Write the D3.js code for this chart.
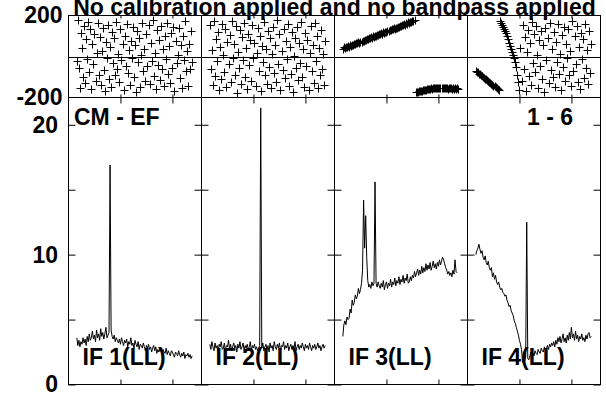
<!DOCTYPE html>
<html>
<head>
<meta charset="utf-8">
<script src="https://d3js.org/d3.v7.min.js"></script>
<style>
  body { margin: 0; background: #fff; }
  text { font-family: "Liberation Sans", Arial, sans-serif; font-weight: bold; }
</style>
</head>
<body>
<div id="chart"></div>
<script>
// every series starts at this channel, one value per channel
var firstChannel = 8;
var nChannels = 128;

var ifLabels = ["IF 1(LL)", "IF 2(LL)", "IF 3(LL)", "IF 4(LL)"];

// amplitudes (bottom row)
var amp1 = [3.6,3.0,3.4,2.9,3.3,3.1,3.6,3.2,3.5,3.0, 3.7,3.3,3.9,3.4,3.6,4.1,3.5,3.8,3.3,4.2,
  3.6,3.9,3.4,4.3,3.7,4.0,3.5,3.9,4.4,3.6, 3.8,4.0,16.9,
  4.2,3.7,3.5,3.8,3.3,3.6,3.4,3.2,3.5,3.1, 3.6,3.3,3.0,3.4,3.2,3.5,2.9,3.3,3.1,3.6,
  3.0,3.2,2.8,3.4,3.1,2.9,3.3,2.7,3.1,3.0, 2.8,3.2,2.9,2.6,3.0,2.8,3.1,2.7,2.9,2.5,
  2.8,3.0,2.6,2.9,2.4,2.7,2.5,2.8,2.6,2.3, 2.7,2.5,2.4,2.8,2.3,2.6,2.4,2.2,2.6,2.5,
  2.3,2.1,2.5,2.4,2.2,2.6,2.3,2.1,2.4,2.2, 2.5,2.0,2.3,2.2,2.4,2.1,2.3,2.0,2.2];
var amp2 = [3.1,2.7,3.3,2.9,2.6,3.2,2.8,3.0,2.5,3.1, 2.9,3.3,2.7,2.8,3.2,2.6,3.0,2.9,3.4,2.7,
  3.1,2.6,2.9,3.2,2.8,3.0,2.5,3.1,2.8,3.3, 2.7,2.9,3.2,2.6,3.0,2.8,3.1,2.7,2.9,3.3,
  2.6,3.0,2.8,3.1,2.7,2.9,2.6,2.8,3.0, 21.3,
  2.8,3.2,2.6,2.9,3.1,2.7,3.0,2.5,3.2,2.8, 3.0,2.6,3.3,2.9,2.7,3.1,2.8,3.2,2.6,3.0,
  2.9,3.3,2.7,3.0,2.8,3.2,2.6,2.9,3.1,2.7, 3.0,2.8,3.3,2.6,2.9,3.1,2.7,3.0,2.8,3.2,
  2.9,2.6,3.1,2.8,3.0,2.7,3.2,2.9,2.6,3.0, 2.8,3.1,2.7,2.9,3.2,2.8,3.0,2.6,2.9,3.1, 2.8,3.0];
var amp3 = [3.7,4.6,4.9,4.6,5.2,5.0,5.1,5.8,5.5,6.5, 6.1,6.3,6.9,6.6,6.8,7.4,7.0,7.3,7.8,8.8,
  14.2,10.5,13.0,9.8,8.0,7.5,7.7,7.4,7.9,7.6, 7.8,15.6,7.8,7.5,7.9,7.6,7.4,7.8,7.5,8.0,
  7.3,7.7,7.9,7.4,7.8,7.6,8.1,7.5,7.9,7.7, 8.2,7.6,8.0,7.8,8.3,7.7,8.1,7.9,8.4,7.8,
  8.2,8.0,8.5,7.8,7.9,8.3,8.0,8.4,8.2,8.7, 8.3,8.6,8.9,8.4,8.8,8.5,9.1,8.6,9.0,8.7,
  9.3,8.8,9.2,8.9,9.4,8.8,9.1,9.5,9.0,9.3, 8.9,9.4,9.1,9.6,9.2,9.5,9.8,9.6,9.3,9.0,
  8.8,8.5,8.7,8.4,8.6,8.3,8.8,8.5,9.6,8.7, 8.6];
var amp4 = [10.0,10.3,10.5,10.8,10.4,10.1,10.3,9.8,9.6,9.9, 9.4,9.2,9.5,9.0,8.8,9.0,8.3,8.6,8.1,8.4,
  7.9,7.7,7.9,7.5,7.3,7.4,7.1,7.0,6.8,6.9, 6.5,6.3,6.0,6.1,5.7,5.5,5.3,4.9,4.7,4.4,
  4.1,3.8,3.4,3.1,2.7,1.7,2.0,1.8,2.1,12.5, 2.0,1.9,2.2,2.5,2.3,2.4,2.2,2.6,2.4,2.3,
  2.7,2.5,2.4,2.8,2.6,2.5,2.9,2.6,2.8,3.0, 2.7,3.1,2.9,3.2,3.0,3.3,2.9,3.4,3.1,3.6,
  3.3,3.7,3.2,3.5,3.9,3.3,3.6,3.2,3.8,3.4, 4.0,3.5,4.4,3.6,3.9,3.4,4.1,3.5,3.8,3.3,
  3.7,3.5,3.9,3.4,3.6,3.3,3.8,3.5,3.9,4.0, 3.6,3.7];

// phases in degrees (top row)
var phase1 = [-20,176,-54,-156,117,40,-98,150,-130,85, -12,168,-75,132,-160,60,-35,110,-120,15,
  161,-88,95,-140,25,140,-65,-170,72,-5, 155,-110,48,-148,120,-30,88,-92,170,-60,
  10,-125,135,-15,63,-165,100,-45,158,-80, 30,-138,78,-8,145,-102,55,-172,125,-28,
  92,-150,5,165,-70,38,-118,108,-48,152, -135,68,-22,178,-95,18,-158,128,-40,82,
  -115,148,-62,35,-145,102,-10,162,-85,50, -128,115,-55,142,-168,75,-32,8,138,-105,
  58,-152,98,-18,172,-72,29,-142,63,-59, 122,-25];
var phase2 = [155,-60,30,-140,172,-95,85,-20,120,-165, 45,-110,160,5,-75,135,-150,70,-35,105,
  -125,175,-5,60,-88,148,-178,22,-55,128, -132,95,-15,165,-100,40,-160,112,-42,80,
  -118,152,-8,65,-145,18,138,-70,100,-170, 52,-28,168,-92,35,-135,125,-50,88,-155,
  12,145,-80,58,-122,178,-38,108,-162,28, -65,132,-105,75,-12,158,-142,48,-85,118,
  -175,2,92,-58,142,-115,68,-30,170,-98, 38,-148,115,-45,82,-165,15,150,-72,55,
  -128,162,-22,98,-155,42,-90,130,-62,10, -138,78];
var phase3 = [38,44,40,46,45,52,48,55,53,58, 57,62,60,66,64,70,68,73,72,78,
  75,81,80,86,84,90,88,93,92,98, 96,101,100,106,104,110,108,113,112,118,
  116,121,120,126,124,130,128,133,132,138, 136,141,140,146,144,150,148,153,152,158,
  156,161,160,166,164,169,168,173,171,176,
  -175,-172,-173,-169,-170,-166,-167,-163,-164,-161, -162,-159,-160,-157,-158,-156,-157,-155,-156,-154,
  -156,-155,-153,-155,-154,-156,-153,-155,-154,-156, -155,-157,-154,-156,-155,-157,-156,-158,-155,-157,
  -156,-158];
var phase4 = [-70,-74,-78,-83,-87,-91,-95,-100,-104,-108, -112,-117,-121,-125,-129,-134,-138,-142,-146,-151,
  -155,-159,-164,
  174,165,154,143,133,122,113,100,84,68, 53,38,22,7,-8,-27,-50,-88,-125,-165,
  40,-120,155,-60,95,-170,20,130,-95,65, -140,170,-30,110,-75,150,5,-155,80,-45,
  125,-110,55,-175,140,-15,90,-130,165,-65, 35,-100,120,-150,70,-25,160,-85,10,-165,
  105,-50,145,-120,60,-5,135,-90,25,-145, 175,-70,100,-35,150,-125,45,-160,115,-10,
  85,-105,158,-55,30,-135,125,-80,62];

var ampTicks = [0, 5, 10, 15, 20];
var ampLabels = [0, 10, 20];
var phaseLabels = [-200, 200];
var chanTicks = [50, 100];

var amps = [amp1, amp2, amp3, amp4];
var phases = [phase1, phase2, phase3, phase4];

var width = 606, height = 397;
var plot = {left: 68.5, top: 15.5, mid: 97.5, bottom: 384.5},
    panelW = 133;

var svg = d3.select("#chart")
  .append("svg")
    .attr("width", width)
    .attr("height", height);

// shared y scales
var yPhase = d3.scaleLinear().domain([-200, 200]).range([plot.mid, plot.top]);
var yAmp = d3.scaleLinear().domain([0, 22.1]).range([plot.bottom, plot.mid]);

var plus = "M-4,0H4M0,-4V4";

function noDomain(g) { g.select(".domain").remove(); }

ifLabels.forEach(function(label, i) {
  var x0 = plot.left + i * panelW;
  var x = d3.scaleLinear().domain([0, nChannels]).range([x0, x0 + panelW]);

  var ampData = amps[i].map(function(v, j) { return {ch: firstChannel + j, v: v}; });
  var phaseData = phases[i].map(function(v, j) { return {ch: firstChannel + j, v: v}; });

  // frames
  svg.append("rect")
    .attr("x", x0).attr("y", plot.top)
    .attr("width", panelW).attr("height", plot.mid - plot.top)
    .attr("fill", "none").attr("stroke", "#000");
  svg.append("rect")
    .attr("x", x0).attr("y", plot.mid)
    .attr("width", panelW).attr("height", plot.bottom - plot.mid)
    .attr("fill", "none").attr("stroke", "#000");
  svg.append("line")
    .attr("x1", x0).attr("x2", x0 + panelW)
    .attr("y1", Math.round(yPhase(0)) + 0.5).attr("y2", Math.round(yPhase(0)) + 0.5)
    .attr("stroke", "#000");

  // channel ticks
  svg.append("g").attr("transform", "translate(0," + plot.top + ")")
    .call(d3.axisTop(x).tickValues(chanTicks).tickSize(-3).tickFormat("")).call(noDomain);
  svg.append("g").attr("transform", "translate(0," + plot.mid + ")")
    .call(d3.axisBottom(x).tickValues(chanTicks).tickSize(-3).tickFormat("")).call(noDomain);
  svg.append("g").attr("transform", "translate(0," + plot.mid + ")")
    .call(d3.axisTop(x).tickValues(chanTicks).tickSize(-6).tickFormat("")).call(noDomain);
  svg.append("g").attr("transform", "translate(0," + plot.bottom + ")")
    .call(d3.axisBottom(x).tickValues(chanTicks).tickSize(-5).tickFormat("")).call(noDomain);

  // amplitude ticks both sides of each panel
  var leftAx = svg.append("g").attr("transform", "translate(" + x0 + ",0)")
    .call(d3.axisLeft(yAmp).tickValues(ampTicks).tickSize(-7).tickPadding(10.5)
      .tickFormat(function(d) { return (i == 0 && ampLabels.indexOf(d) >= 0) ? String(d) : ""; }))
    .call(noDomain);
  leftAx.selectAll("text").style("font-size", "23px").attr("fill", "#000");
  svg.append("g").attr("transform", "translate(" + (x0 + panelW) + ",0)")
    .call(d3.axisRight(yAmp).tickValues(ampTicks).tickSize(-7).tickFormat(""))
    .call(noDomain);

  if (i == 0) {
    var phAx = svg.append("g").attr("transform", "translate(" + x0 + ",0)")
      .call(d3.axisLeft(yPhase).tickValues(phaseLabels).tickSize(0).tickPadding(6)
        .tickFormat(function(d) { return String(d); }))
      .call(noDomain);
    phAx.selectAll("text").style("font-size", "23px").attr("fill", "#000");
  }

  // phase points
  svg.append("g")
    .selectAll("path")
    .data(phaseData)
    .enter()
    .append("path")
      .attr("d", plus)
      .attr("transform", function(d) {
        return "translate(" + (Math.round(x(d.ch)) + 0.5) + "," + (Math.round(yPhase(d.v)) + 0.5) + ")";
      })
      .attr("stroke", "#000")
      .attr("stroke-width", 1)
      .attr("fill", "none");

  // amplitude line
  svg.append("path")
    .datum(ampData)
    .attr("fill", "none")
    .attr("stroke", "#000")
    .attr("stroke-width", 1)
    .attr("d", d3.line()
      .x(function(d) { return x(d.ch); })
      .y(function(d) { return yAmp(d.v); }));

  // IF label
  svg.append("text")
    .attr("x", x0 + 14)
    .attr("y", 365)
    .style("font-size", "23px")
    .text(label);
});

// title and corner labels
svg.append("text")
  .attr("x", plot.left + 2 * panelW)
  .attr("y", 15)
  .attr("text-anchor", "middle")
  .style("font-size", "23px")
  .text("No calibration applied and no bandpass applied");

svg.append("text")
  .attr("x", 74)
  .attr("y", 125)
  .style("font-size", "23px")
  .text("CM - EF");

svg.append("text")
  .attr("x", 573)
  .attr("y", 125)
  .attr("text-anchor", "end")
  .style("font-size", "23px")
  .text("1 - 6");
</script>
</body>
</html>
